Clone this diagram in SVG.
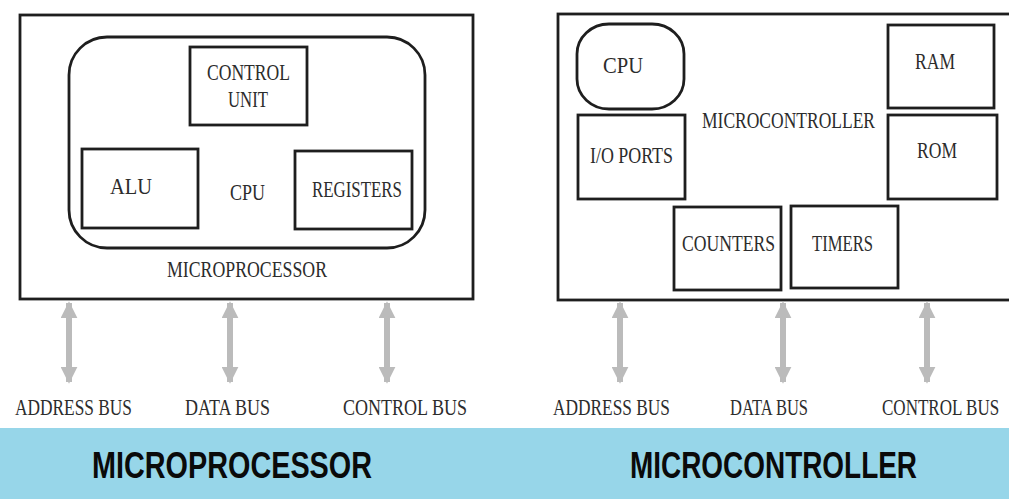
<svg xmlns="http://www.w3.org/2000/svg" width="1009" height="499" viewBox="0 0 1009 499">
  <defs>
    <style>
      .frame { fill: none; stroke: #1e1e1e; stroke-width: 2.8; }
      .box { fill: none; stroke: #1e1e1e; stroke-width: 2.8; }
      .lbl { font-family: "Liberation Serif", "Times New Roman", serif; font-size: 24px; fill: #2c2c2c; }
      .title { font-family: "Liberation Sans", Arial, sans-serif; font-weight: bold; font-size: 36px; fill: #0a0a0a; }
      .bus { stroke: #bbbbbb; stroke-width: 6; fill: none; marker-start: url(#head); marker-end: url(#head); }
    </style>
    <marker id="head" viewBox="0 0 10 10" refX="9" refY="5" markerUnits="userSpaceOnUse" markerWidth="17" markerHeight="17" orient="auto-start-reverse">
      <path d="M0,0 L10,5 L0,10 Z" fill="#bbbbbb"/>
    </marker>
  </defs>

  <rect width="1009" height="499" fill="#ffffff"/>

  <!-- Microprocessor block -->
  <g id="microprocessor">
    <rect class="frame" x="20" y="15" width="453" height="284"/>
    <text class="lbl" x="167" y="277" textLength="160" lengthAdjust="spacingAndGlyphs">MICROPROCESSOR</text>
  </g>
  <g id="cpu">
    <rect class="box" x="69" y="37" width="356" height="211" rx="38" ry="38"/>
    <text class="lbl" x="230" y="200" textLength="35" lengthAdjust="spacingAndGlyphs">CPU</text>
  </g>
  <g id="control-unit">
    <rect class="box" x="190" y="47" width="117" height="78"/>
    <text class="lbl" x="207" y="80" textLength="83" lengthAdjust="spacingAndGlyphs">CONTROL</text>
    <text class="lbl" x="228" y="107" textLength="40" lengthAdjust="spacingAndGlyphs">UNIT</text>
  </g>
  <g id="alu">
    <rect class="box" x="82" y="149" width="116" height="79"/>
    <text class="lbl" x="110" y="194" textLength="42" lengthAdjust="spacingAndGlyphs">ALU</text>
  </g>
  <g id="registers">
    <rect class="box" x="295" y="151" width="117" height="78"/>
    <text class="lbl" x="312" y="197" textLength="90" lengthAdjust="spacingAndGlyphs">REGISTERS</text>
  </g>

  <!-- Microcontroller block -->
  <g id="microcontroller">
    <rect class="frame" x="558" y="14" width="460" height="286"/>
    <text class="lbl" x="702" y="128" textLength="173" lengthAdjust="spacingAndGlyphs">MICROCONTROLLER</text>
  </g>
  <g id="mc-cpu">
    <rect class="box" x="577" y="24" width="107" height="85" rx="32" ry="30"/>
    <text class="lbl" x="603" y="73" textLength="40" lengthAdjust="spacingAndGlyphs">CPU</text>
  </g>
  <g id="io-ports">
    <rect class="box" x="578" y="115" width="107" height="84"/>
    <text class="lbl" x="590" y="163" textLength="83" lengthAdjust="spacingAndGlyphs">I/O PORTS</text>
  </g>
  <g id="ram">
    <rect class="box" x="888" y="25" width="106" height="83"/>
    <text class="lbl" x="915" y="69" textLength="40" lengthAdjust="spacingAndGlyphs">RAM</text>
  </g>
  <g id="rom">
    <rect class="box" x="888" y="115" width="109" height="84"/>
    <text class="lbl" x="917" y="158" textLength="40" lengthAdjust="spacingAndGlyphs">ROM</text>
  </g>
  <g id="counters">
    <rect class="box" x="674" y="207" width="107" height="83"/>
    <text class="lbl" x="682" y="251" textLength="93" lengthAdjust="spacingAndGlyphs">COUNTERS</text>
  </g>
  <g id="timers">
    <rect class="box" x="791" y="206" width="107" height="82"/>
    <text class="lbl" x="812" y="251" textLength="61" lengthAdjust="spacingAndGlyphs">TIMERS</text>
  </g>

  <!-- Bus connectors (bidirectional) -->
  <g id="connectors">
    <line class="bus" x1="69" y1="303" x2="69" y2="382"/>
    <line class="bus" x1="230" y1="303" x2="230" y2="382"/>
    <line class="bus" x1="387" y1="303" x2="387" y2="382"/>
    <line class="bus" x1="620" y1="303" x2="620" y2="382"/>
    <line class="bus" x1="783" y1="303" x2="783" y2="382"/>
    <line class="bus" x1="927" y1="303" x2="927" y2="382"/>
  </g>

  <!-- Bus labels -->
  <g id="bus-labels">
    <text class="lbl" x="15" y="415" textLength="117" lengthAdjust="spacingAndGlyphs">ADDRESS BUS</text>
    <text class="lbl" x="185" y="415" textLength="85" lengthAdjust="spacingAndGlyphs">DATA BUS</text>
    <text class="lbl" x="343" y="415" textLength="124" lengthAdjust="spacingAndGlyphs">CONTROL BUS</text>
    <text class="lbl" x="553" y="415" textLength="117" lengthAdjust="spacingAndGlyphs">ADDRESS BUS</text>
    <text class="lbl" x="730" y="415" textLength="78" lengthAdjust="spacingAndGlyphs">DATA BUS</text>
    <text class="lbl" x="0" y="0" transform="translate(882 415) scale(0.71 1)">CONTROL BUS</text>
  </g>

  <!-- Caption band -->
  <g id="caption">
    <rect x="0" y="428" width="1009" height="71" fill="#97d6e9"/>
    <text class="title" x="92" y="478" textLength="280" lengthAdjust="spacingAndGlyphs">MICROPROCESSOR</text>
    <text class="title" x="630" y="478" textLength="287" lengthAdjust="spacingAndGlyphs">MICROCONTROLLER</text>
  </g>
</svg>
